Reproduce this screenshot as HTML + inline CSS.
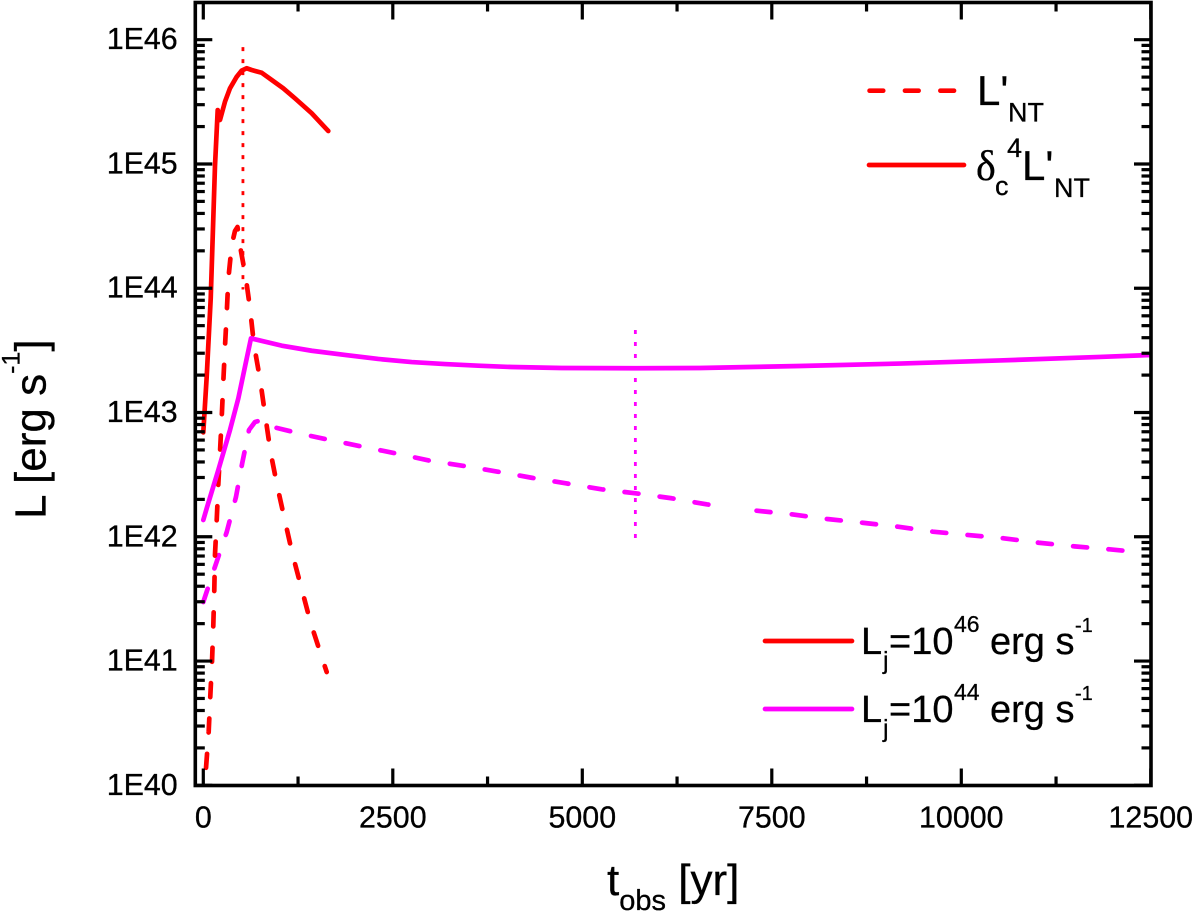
<!DOCTYPE html>
<html lang="en">
<head>
<meta charset="utf-8">
<title>Luminosity vs observed time</title>
<style>
html,body{margin:0;padding:0;background:#fff;}
svg{display:block;font-family:"Liberation Sans",Arial,sans-serif;}
svg text{stroke:#000;stroke-width:0.3px;}
</style>
</head>
<body>
<svg id="chart" xmlns="http://www.w3.org/2000/svg" width="1200" height="914" viewBox="0 0 1200 914">
  <defs><clipPath id="plot-clip"><rect x="195" y="2" width="956" height="784"/></clipPath></defs>
  <g id="series" clip-path="url(#plot-clip)"></g>
  <g id="ticks"></g>
  <rect x="195.3" y="2.5" width="955.7" height="783" fill="none" stroke="#000" stroke-width="3.6"/>
  <g id="tick-labels"></g>

  <text transform="translate(45.7,519) rotate(-90)" font-size="44" fill="#000">L [erg s<tspan font-size="25" dy="-26">-1</tspan><tspan dy="26">]</tspan></text>
  <text x="607" y="895" font-size="44" fill="#000">t<tspan font-size="29" dy="15">obs</tspan><tspan dy="-15"> [yr]</tspan></text>

  <line x1="869.6" y1="90.7" x2="957" y2="90.7" stroke="#f00" stroke-width="4.7" stroke-linecap="round" stroke-dasharray="13.6 21.8"/>
  <text x="977" y="105" font-size="42" fill="#000">L'<tspan x="1008" y="121.7" font-size="27">NT</tspan></text>
  <line x1="869" y1="165" x2="964" y2="165" stroke="#f00" stroke-width="4.7" stroke-linecap="round"/>
  <text x="976" y="180" font-size="42" fill="#000"><tspan font-family="Liberation Serif">δ</tspan><tspan x="995" y="195" font-size="27">c</tspan><tspan x="1007" y="157" font-size="27">4</tspan><tspan x="1022" y="180">L'</tspan><tspan x="1054" y="197" font-size="27">NT</tspan></text>

  <line x1="765" y1="641" x2="852" y2="641" stroke="#f00" stroke-width="4.7" stroke-linecap="round"/>
  <text x="861" y="654" font-size="38" fill="#000">L<tspan x="883" y="669" font-size="25">j</tspan><tspan x="889" y="654">=10</tspan><tspan x="954" y="632" font-size="23">46</tspan><tspan x="990" y="654">erg s</tspan><tspan x="1075" y="632" font-size="20">-1</tspan></text>
  <line x1="765" y1="709" x2="852" y2="709" stroke="#f0f" stroke-width="4.7" stroke-linecap="round"/>
  <text x="861" y="722" font-size="38" fill="#000">L<tspan x="883" y="737" font-size="25">j</tspan><tspan x="889" y="722">=10</tspan><tspan x="954" y="700" font-size="23">44</tspan><tspan x="990" y="722">erg s</tspan><tspan x="1075" y="700" font-size="20">-1</tspan></text>
</svg>
<script>
// --- data (t in yr, values as log10 L) ---
var redSolidT = [0,45,98,154,190,220,286,352,441,506,572,638,770,902,1055,1210,1430,1649];
var redSolidLog = [42.84,43.29,43.92,44.98,45.434,45.354,45.501,45.609,45.702,45.751,45.770,45.756,45.734,45.676,45.609,45.528,45.408,45.265];
var redDashT = [25,36,71,92,115,132,145,154,177,198,220,243,264,286,309,330,375,418,451,484,559,616,669,748,814,889,981,1078,1179,1298,1417,1562,1628];
var redDashLog = [40.002,40.142,40.431,40.713,40.995,41.290,41.572,41.853,42.135,42.422,42.677,42.961,43.248,43.530,43.798,44.072,44.348,44.461,44.493,44.342,44.093,43.841,43.543,43.270,42.988,42.674,42.393,42.127,41.853,41.580,41.306,41.033,40.912];
var magSolidT = [0,45,198,352,462,550,629,1034,1430,1869,2308,2749,3188,3627,4068,4727,5707,6551,7870,9190,10509,11828,12500];
var magSolidLog = [42.135,42.229,42.537,42.859,43.114,43.369,43.597,43.538,43.497,43.463,43.431,43.406,43.390,43.377,43.366,43.358,43.356,43.358,43.374,43.394,43.419,43.447,43.463];
var magDashEarlyT = [0,66,154,309,431,514,603,682,774,902,1298,1715,2142,2581,2990,3439,3883,4331,4784,5255,5703,6178,6640,6868];
var magDashEarlyLog = [41.475,41.598,41.759,42.038,42.320,42.594,42.859,42.924,42.940,42.886,42.827,42.773,42.720,42.666,42.612,42.570,42.524,42.475,42.430,42.382,42.350,42.310,42.261,42.242];
var magDashLateT = [7299,7761,8230,8697,9163,9625,10096,10557,11022,11493,11955,12183];
var magDashLateLog = [42.210,42.181,42.143,42.113,42.081,42.041,42.014,41.988,41.952,41.923,41.899,41.886];
var redMarkerT = [523];
var redMarkerLog = [45.94,43.99];
var magMarkerT = [5700];
var magMarkerLog = [43.664,41.974];
var xMajorTicks = [0,2500,5000,7500,10000,12500];
var xMinorTicks = [1250,3750,6250,8750,11250];
var yDecades = [46,45,44,43,42,41,40];
var yMinorFactors = [2,3,4,5,6,7,8,9];
var xTickLabels = ["0","2500","5000","7500","10000","12500"];
var yTickLabels = ["1E46","1E45","1E44","1E43","1E42","1E41","1E40"];

// --- axis functions ---
var SVGNS = "http://www.w3.org/2000/svg";
function xScale(t){ return 203.3 + t * 0.0758; }
function yScale(logL){ return 39.7 + (46 - logL) * 124.27; }
var seriesLayer = document.getElementById("series");
var tickLayer = document.getElementById("ticks");
var labelLayer = document.getElementById("tick-labels");

function pointsOf(ts, logs){
  var out = [];
  for (var i = 0; i < ts.length; i++) { out.push(xScale(ts[i]).toFixed(2) + "," + yScale(logs[i]).toFixed(2)); }
  return out.join(" ");
}
function drawLine(name, ts, logs, color, dash, offset){
  var el = document.createElementNS(SVGNS, "polyline");
  
  
  el.setAttribute("points", pointsOf(ts, logs));
  el.setAttribute("fill", "none");
  el.setAttribute("stroke", color);
  el.setAttribute("stroke-width", "4.7");
  el.setAttribute("stroke-linejoin", "round");
  el.setAttribute("stroke-linecap", "round");
  if (dash) { el.setAttribute("stroke-dasharray", dash); el.setAttribute("stroke-dashoffset", offset); }
  seriesLayer.appendChild(el);
}
function drawMarker(name, t, logs, color){
  var el = document.createElementNS(SVGNS, "line");
  
  
  el.setAttribute("x1", xScale(t));
  el.setAttribute("x2", xScale(t));
  el.setAttribute("y1", yScale(logs[0]));
  el.setAttribute("y2", yScale(logs[1]));
  el.setAttribute("stroke", color);
  el.setAttribute("stroke-width", "2.8");
  el.setAttribute("stroke-dasharray", "4 8");
  seriesLayer.appendChild(el);
}
function tick(name, x1, y1, x2, y2){
  var el = document.createElementNS(SVGNS, "line");
  
  
  el.setAttribute("x1", x1);
  el.setAttribute("y1", y1);
  el.setAttribute("x2", x2);
  el.setAttribute("y2", y2);
  el.setAttribute("stroke", "#000");
  el.setAttribute("stroke-width", "3.2");
  tickLayer.appendChild(el);
}
function label(name, x, y, anchor, text){
  var el = document.createElementNS(SVGNS, "text");
  
  
  el.setAttribute("x", x);
  el.setAttribute("y", y);
  el.setAttribute("text-anchor", anchor);
  el.setAttribute("font-size", "30.4");
  el.setAttribute("fill", "#000");
  el.textContent = text;
  labelLayer.appendChild(el);
}

// --- series ---
drawLine("magenta-dashed-series-early", magDashEarlyT, magDashEarlyLog, "#f0f", "14 21.4", "0");
drawLine("magenta-dashed-series-late", magDashLateT, magDashLateLog, "#f0f", "14 21.4", "0");
drawLine("red-solid-series", redSolidT, redSolidLog, "#f00");
drawLine("red-dashed-series", redDashT, redDashLog, "#f00", "14 21.4", "18.1");
drawLine("magenta-solid-series", magSolidT, magSolidLog, "#f0f");
drawMarker("red-peak-marker", redMarkerT[0], redMarkerLog, "#f00");
drawMarker("magenta-peak-marker", magMarkerT[0], magMarkerLog, "#f0f");

// --- ticks & labels ---
var LEFT = 195.3, RIGHT = 1151, TOP = 2.5, BOTTOM = 785.5;
xMajorTicks.forEach(function(t, i){
  var x = xScale(t);
  tick("x-major-tick-bottom", x, BOTTOM, x, BOTTOM - 17);
  tick("x-major-tick-top", x, TOP, x, TOP + 17);
  label("x-tick-label", x, 827.7, "middle", xTickLabels[i]);
});
xMinorTicks.forEach(function(t){
  var x = xScale(t);
  tick("x-minor-tick-bottom", x, BOTTOM, x, BOTTOM - 9);
  tick("x-minor-tick-top", x, TOP, x, TOP + 9);
});
yDecades.forEach(function(d, i){
  var y = yScale(d);
  tick("y-major-tick-left", LEFT, y, LEFT + 17, y);
  tick("y-major-tick-right", RIGHT, y, RIGHT - 17, y);
  label("y-tick-label", 177.7, y + 9.5, "end", yTickLabels[i]);
  if (d > 40) {
    yMinorFactors.forEach(function(f){
      var ym = yScale(d - 1 + Math.log10(f));
      tick("y-minor-tick-left", LEFT, ym, LEFT + 9.5, ym);
      tick("y-minor-tick-right", RIGHT, ym, RIGHT - 9.5, ym);
    });
  }
});
</script>
</body>
</html>
